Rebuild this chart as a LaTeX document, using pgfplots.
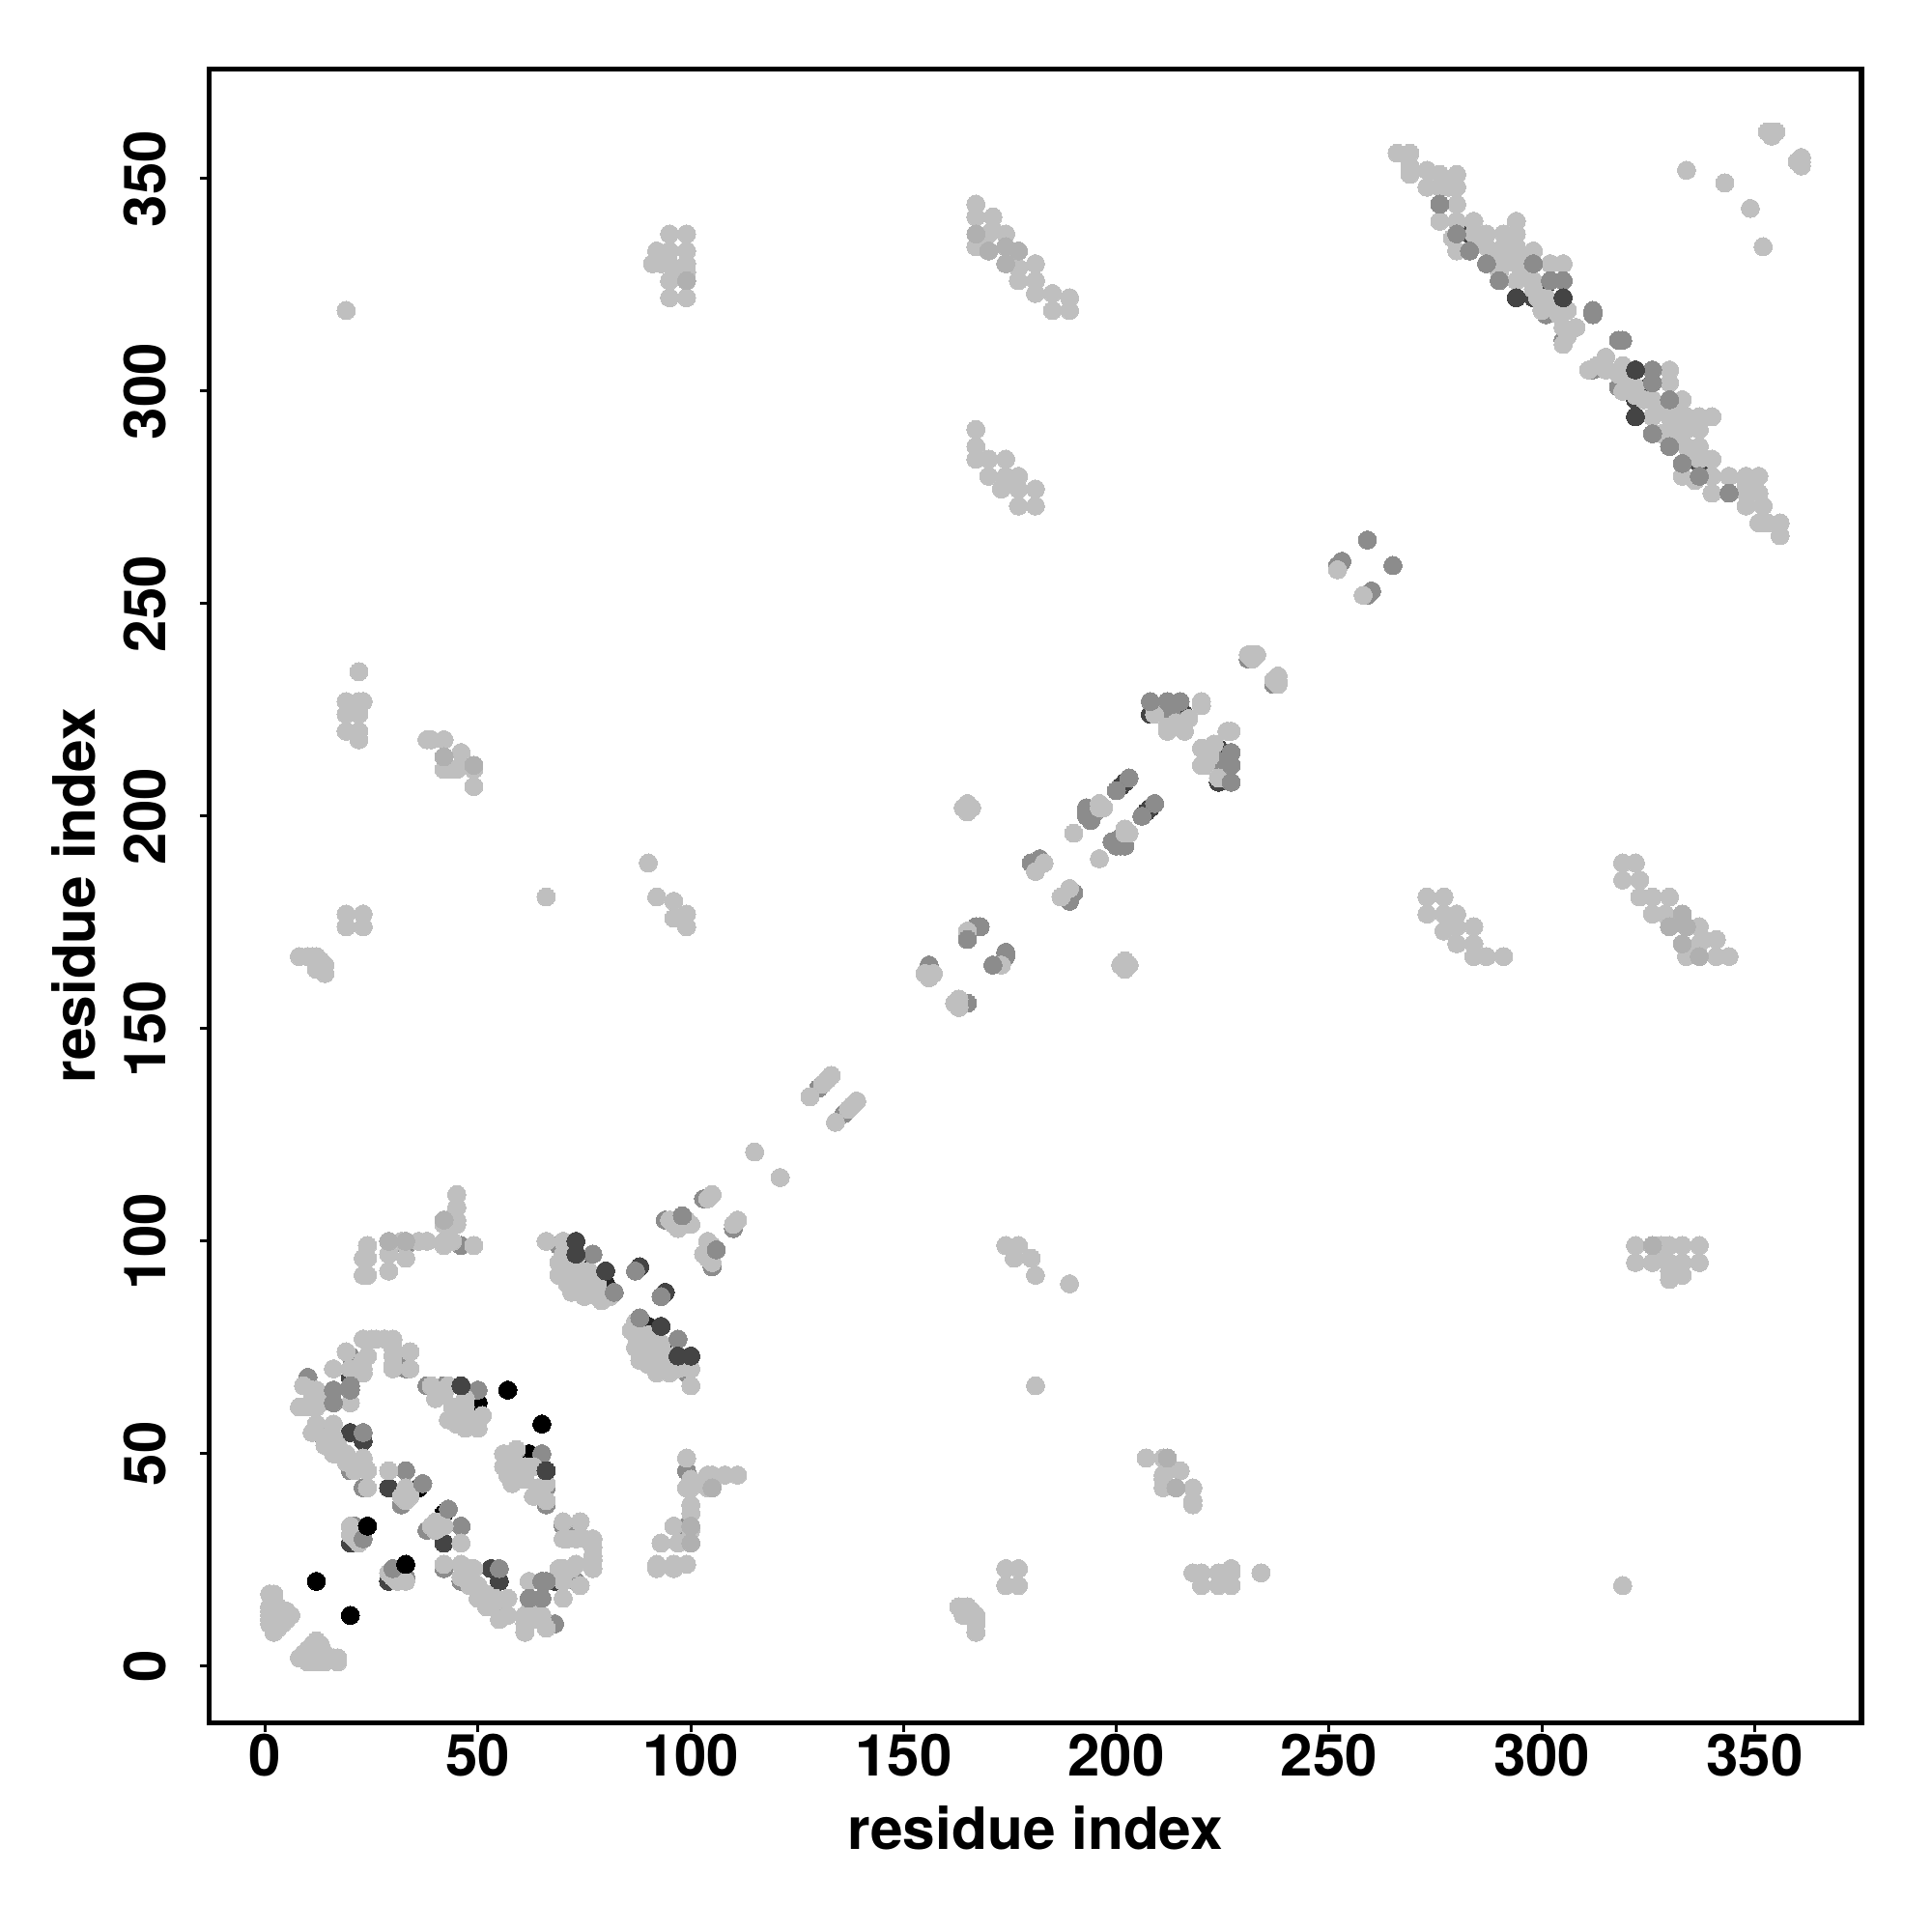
\documentclass[border=0pt]{standalone}
\usepackage{pgfplots}
\usepackage{pgfplotstable}
\usepackage{fontspec}
\setmainfont{TeX Gyre Heros}
\pgfplotsset{compat=1.18}
\definecolor{cB}{HTML}{000000}
\definecolor{cDD}{HTML}{262626}
\definecolor{cD}{HTML}{444444}
\definecolor{cM}{HTML}{8C8C8C}
\definecolor{cA}{HTML}{B0B0B0}
\definecolor{cL}{HTML}{BFBFBF}
\pgfplotstableread[row sep=\\]{a b\\
12 20\\ 24 33\\ 57 65\\ 50 62\\ 36 42\\
}\Bdata
\pgfplotstableread[row sep=\\]{a b\\
79 90\\ 80 90\\ 75 95\\ 46 66\\ 80 93\\
}\DDdata
\pgfplotstableread[row sep=\\]{a b\\
20 68\\ 20 55\\ 23 53\\ 29 42\\ 20 29\\ 73 100\\ 73 97\\ 88 94\\ 208 224\\ 216 224\\ 201 207\\ 202 208\\
283 337\\ 294 322\\ 301 325\\ 305 322\\ 298 322\\
}\Ddata
\pgfplotstableread[row sep=\\]{a b\\
20 73\\ 10 68\\ 13 55\\ 14 53\\ 20 46\\ 23 42\\ 33 46\\ 32 38\\ 21 33\\
33 70\\ 32 73\\ 38 66\\ 42 66\\ 50 65\\ 33 99\\ 46 99\\ 69 99\\ 87 93\\ 94 105\\ 97 104\\ 103 110\\
156 165\\ 168 174\\ 167 174\\ 180 189\\ 181 189\\ 182 190\\ 193 200\\ 194 199\\ 193 202\\ 195 201\\ 193 201\\
200 206\\ 203 209\\ 213 224\\ 130 136\\ 252 259\\ 253 260\\ 259 265\\ 231 237\\
301 318\\ 312 318\\ 312 319\\ 305 312\\
}\Mdata
\pgfplotstableread[row sep=\\]{a b\\
1 10\\ 1 11\\ 1 12\\ 1 13\\ 1 14\\ 1 17\\ 2 8\\ 2 9\\ 2 10\\ 2 11\\ 2 12\\ 2 13\\ 2 14\\ 2 15\\ 2 16\\ 2 17\\
3 9\\ 3 10\\ 3 11\\ 3 12\\ 3 13\\ 3 14\\ 4 10\\ 4 11\\ 4 12\\ 4 13\\ 5 11\\ 5 12\\ 5 13\\ 6 12\\
23 77\\ 25 77\\ 26 77\\ 28 77\\ 30 77\\ 19 74\\ 24 73\\ 23 72\\ 30 73\\ 30 75\\ 34 74\\ 16 70\\ 20 70\\ 23 70\\ 23 69\\ 30 70\\ 34 70\\ 30 71\\
11 65\\ 9 66\\ 11 63\\ 12 65\\ 13 64\\ 8 61\\ 12 61\\ 10 61\\ 13 62\\ 20 62\\ 12 57\\ 11 55\\ 16 57\\ 16 54\\ 15 54\\ 14 52\\ 18 50\\ 16 50\\ 19 50\\ 23 49\\ 23 48\\ 17 52\\ 19 48\\ 21 47\\ 24 46\\ 21 46\\ 24 42\\ 29 46\\ 33 42\\ 33 39\\ 34 40\\ 32 40\\
39 66\\ 43 66\\ 40 63\\ 42 64\\ 47 63\\ 44 61\\ 47 61\\ 43 58\\ 45 60\\ 47 56\\ 48 58\\ 50 56\\ 51 59\\ 46 58\\ 50 58\\ 45 57\\ 48 57\\
20 33\\ 20 31\\ 21 30\\ 22 29\\ 23 32\\
24 99\\ 23 96\\ 24 96\\ 23 92\\ 24 92\\ 29 97\\ 29 93\\ 32 100\\ 33 96\\ 36 100\\ 38 100\\ 42 100\\ 42 99\\ 42 104\\ 43 105\\ 44 104\\ 45 104\\ 45 105\\ 45 108\\ 45 111\\ 44 100\\ 49 99\\
22 234\\ 19 227\\ 23 227\\ 22 227\\ 19 224\\ 22 224\\ 19 220\\ 22 220\\ 22 218\\ 38 218\\ 39 218\\ 42 218\\ 46 215\\ 42 211\\ 45 211\\ 46 212\\ 49 211\\ 49 207\\ 44 211\\
19 177\\ 23 177\\ 19 174\\ 23 174\\ 8 167\\ 10 167\\ 11 167\\ 12 167\\ 12 165\\ 13 164\\ 14 163\\ 14 165\\ 13 166\\ 12 164\\ 19 319\\
66 181\\ 90 189\\ 92 181\\ 96 180\\ 96 176\\ 99 177\\ 99 174\\
95 337\\ 99 337\\ 92 333\\ 95 333\\ 99 333\\ 91 330\\ 93 330\\ 95 330\\ 99 330\\ 96 327\\ 99 328\\ 95 326\\ 95 322\\ 99 322\\
167 344\\ 167 341\\ 171 341\\ 167 334\\ 170 337\\ 171 338\\ 174 337\\ 177 329\\ 177 326\\ 181 330\\ 181 326\\ 181 323\\ 185 323\\ 185 319\\ 189 322\\ 189 319\\ 175 333\\
167 291\\ 167 287\\ 167 284\\ 170 284\\ 170 280\\ 174 284\\ 173 277\\ 174 280\\ 177 280\\ 177 277\\ 177 273\\ 181 277\\ 181 273\\
66 100\\ 70 100\\ 69 95\\ 69 92\\ 72 93\\ 72 88\\ 73 96\\ 76 93\\ 75 90\\ 75 87\\ 78 87\\ 79 86\\ 70 97\\ 71 90\\ 74 92\\ 77 90\\ 72 96\\ 74 88\\ 78 90\\ 81 87\\ 70 94\\
95 105\\ 97 103\\ 99 105\\ 104 110\\ 105 111\\ 100 104\\ 96 104\\
115 121\\ 128 134\\ 131 137\\ 133 139\\ 132 138\\
155 163\\ 157 163\\ 156 162\\ 165 173\\ 164 202\\ 166 202\\ 165 201\\ 165 203\\ 181 187\\ 183 189\\ 190 196\\ 196 202\\ 197 202\\ 196 203\\
209 224\\ 212 220\\ 215 221\\ 217 223\\ 216 220\\ 214 222\\ 220 226\\ 220 227\\ 212 221\\
231 238\\ 232 238\\ 233 238\\ 232 237\\ 252 258\\
266 356\\ 269 356\\ 269 353\\ 269 351\\ 273 352\\ 273 348\\ 276 351\\ 276 348\\ 278 348\\ 276 340\\ 280 344\\ 280 351\\ 280 348\\ 280 340\\ 279 336\\ 280 333\\ 284 340\\ 284 337\\ 287 337\\ 287 334\\ 291 337\\ 294 340\\ 294 337\\ 291 334\\ 294 334\\ 291 330\\ 294 330\\ 294 326\\ 298 333\\ 298 326\\ 302 330\\ 305 330\\ 301 322\\ 306 319\\ 308 315\\ 305 315\\ 304 318\\ 298 324\\ 296 328\\ 296 332\\ 292 332\\ 289 332\\ 285 335\\ 290 328\\ 302 320\\ 300 319\\ 299 322\\ 305 311\\ 306 313\\
334 352\\ 343 349\\ 353 361\\ 354 361\\ 355 361\\ 354 360\\
}\Ldata
\pgfplotstableread[row sep=\\]{a b\\
29 100\\ 33 100\\ 42 105\\ 99 326\\ 174 334\\ 174 330\\ 167 337\\ 170 333\\ 177 333\\ 49 212\\ 42 214\\
}\TAdata
\pgfplotstableread[row sep=\\]{a b\\
37 43\\ 23 55\\ 82 88\\ 77 97\\ 165 171\\ 98 106\\ 20 66\\ 20 65\\ 16 65\\ 16 62\\ 23 30\\
208 227\\ 212 227\\ 215 227\\ 276 344\\ 280 337\\ 283 333\\ 287 330\\ 290 326\\ 298 330\\ 302 326\\ 305 326\\
}\TMdata
\pgfplotstableread[row sep=\\]{a b\\
46 66\\ 73 100\\ 73 97\\ 80 93\\ 294 322\\ 305 322\\
}\TDdata
\pgfplotstableread[row sep=\\]{a b\\
24 33\\
}\TBdata
\newcommand{\pts}[2]{%
  \addplot[only marks, mark=*, mark size=2.35pt, mark options={draw=#2, fill=#2, line width=0pt}] table[x=a,y=b] {#1};
  \addplot[only marks, mark=*, mark size=2.35pt, mark options={draw=#2, fill=#2, line width=0pt}] table[x=b,y=a] {#1};
}
\begin{document}
\begin{tikzpicture}
\useasboundingbox (-54.125pt,-54.125pt) rectangle ++(500pt,500pt);
\begin{axis}[
  scale only axis, width=427.6pt, height=428pt,
  xmin=-13.2, xmax=375.1, ymin=-13.3, ymax=375.8,
  axis line style={line width=1.4pt, black},
  xtick={0,50,...,350}, ytick={0,50,...,350},
  tick align=outside, tick pos=left,
  major tick length=2.4pt,
  tick style={line width=0.75pt, black},
  /pgf/number format/assume math mode=true,
  tick label style={font=\fontsize{15}{15}\selectfont\bfseries, inner sep=0pt},
  xticklabel style={anchor=north, yshift=-0.4pt},
  yticklabel style={rotate=90, anchor=south, yshift=8.6pt},
  xlabel={residue index}, ylabel={residue index},
  label style={font=\fontsize{15.1}{15.1}\selectfont\bfseries, inner sep=0pt},
  xlabel style={at={(axis description cs:0.5,-0.0766)}, anchor=base},
  ylabel style={at={(axis description cs:-0.0688,0.5)}, anchor=base, rotate=0},
]
\pts{\Bdata}{cB}
\pts{\DDdata}{cDD}
\pts{\Ddata}{cD}
\pts{\Mdata}{cM}
\pts{\Ldata}{cL}
\pts{\TAdata}{cA}
\pts{\TMdata}{cM}
\pts{\TDdata}{cD}
\pts{\TBdata}{cB}
\end{axis}
\end{tikzpicture}
\end{document}
